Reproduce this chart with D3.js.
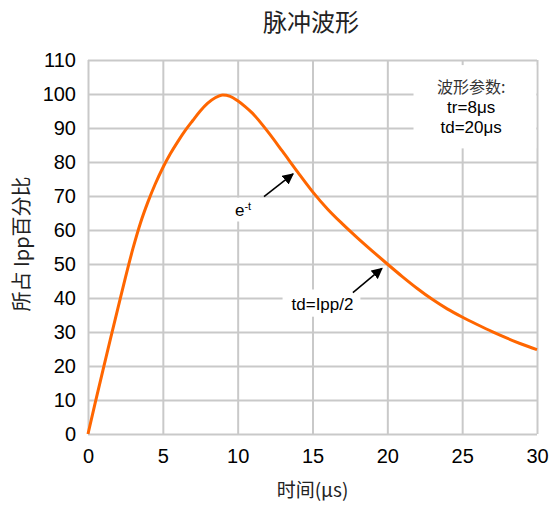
<!DOCTYPE html>
<html>
<head>
<meta charset="utf-8">
<script src="https://cdn.jsdelivr.net/npm/d3@7"></script>
<style>
  body { margin: 0; background: #fff; }
  svg { display: block; }
</style>
</head>
<body>
<svg id="chart" width="550" height="505"></svg>
<script>
// pulse waveform
const timeVals = [0, 0.5, 1, 1.5, 2, 2.5, 3, 3.5, 4, 4.5, 5, 5.5, 6, 6.5, 7, 7.5, 8, 8.5, 9, 9.5, 10, 10.5, 11, 12, 13, 14,
                  15, 16, 17, 18, 19, 20, 21, 22, 23, 24, 25, 26, 27, 28, 29, 30];
const pctVals  = [0, 9.5, 18.8, 28, 37, 46, 54.5, 62, 68.2, 73.6, 78.3, 82.4, 86, 89.3, 92.2, 95, 97.3, 98.9, 99.7, 99.3, 98, 96.3, 94.3, 89, 83.1, 77.1,
                  71.3, 66.2, 61.8, 57.7, 53.8, 50, 46.3, 42.8, 39.6, 36.8, 34.4, 32.2, 30.1, 28.2, 26.4, 24.8];
const xTicks = [0, 5, 10, 15, 20, 25, 30];
const yTicks = [0, 10, 20, 30, 40, 50, 60, 70, 80, 90, 100, 110];

const titleText  = "脉冲波形";
const xLabelText = "时间(μs)";
const yLabelText = "所占 Ipp百分比";
const boxLines   = ["波形参数:", "tr=8μs", "td=20μs"];

// annotation arrows in data units: [fromT, fromPct, toT, toPct]
const arrows = [
  [11.76, 69.8, 13.7, 76.5],
  [17.7, 41.6, 19.64, 48.7]
];

const svg = d3.select("#chart"),
      margin = { top: 60, right: 13, bottom: 71, left: 88 },
      width  = 550 - margin.left - margin.right,
      height = 505 - margin.top - margin.bottom;

const sans = "'Liberation Sans', Arial, sans-serif";
const cjk  = "'Noto Sans CJK SC', sans-serif";

const defs = svg.append("defs");
defs.append("marker")
    .attr("id", "arrowhead")
    .attr("viewBox", "0 0 10 10")
    .attr("refX", 9).attr("refY", 5)
    .attr("markerWidth", 7).attr("markerHeight", 7)
    .attr("markerUnits", "strokeWidth")
    .attr("orient", "auto")
  .append("path")
    .attr("d", "M0,0 L10,5 L0,10 z")
    .attr("fill", "#000");

const g = svg.append("g")
  .attr("transform", `translate(${margin.left},${margin.top})`);

const x = d3.scaleLinear().domain([0, 30]).range([0, width]);
const y = d3.scaleLinear().domain([0, 110]).range([height, 0]);

// grid
const gridX = g.append("g")
  .attr("transform", `translate(0,${height})`)
  .call(d3.axisBottom(x).tickValues(xTicks).tickSize(-height).tickFormat(""));
const gridY = g.append("g")
  .call(d3.axisLeft(y).tickValues(yTicks).tickSize(-width).tickFormat(""));
[gridX, gridY].forEach(a => {
  a.select(".domain").remove();
  a.selectAll("line").attr("stroke", "#c9c9c9").attr("stroke-width", 2);
});

// tick labels
const xAxis = g.append("g")
  .attr("transform", `translate(0,${height})`)
  .call(d3.axisBottom(x).tickValues(xTicks).tickSize(0).tickPadding(10));
const yAxis = g.append("g")
  .call(d3.axisLeft(y).tickValues(yTicks).tickSize(0).tickPadding(12));
[xAxis, yAxis].forEach(a => {
  a.select(".domain").remove();
  a.selectAll("text")
    .attr("font-family", sans)
    .attr("font-size", "20px")
    .attr("fill", "#000");
});
xAxis.selectAll("text").attr("dy", "0.95em");

// white backing for the parameter box and the labels
g.append("rect")
  .attr("x", x(21.75)).attr("y", y(108.5))
  .attr("width", x(29.95) - x(21.75)).attr("height", y(84) - y(108.5))
  .attr("fill", "#fff");
g.append("rect")
  .attr("x", x(13.0)).attr("y", y(42.5))
  .attr("width", x(18.2) - x(13.0)).attr("height", y(34.5) - y(42.5))
  .attr("fill", "#fff");
g.append("rect")
  .attr("x", x(9.5)).attr("y", y(69.5))
  .attr("width", x(11.5) - x(9.5)).attr("height", y(62.5) - y(69.5))
  .attr("fill", "#fff");

// waveform
const pts = timeVals.map((t, i) => ({ t, v: pctVals[i] }));
g.append("path")
  .datum(pts)
  .attr("fill", "none")
  .attr("stroke", "#ff6600")
  .attr("stroke-width", 3)
  .attr("stroke-linejoin", "round")
  .attr("d", d3.line().x(d => x(d.t)).y(d => y(d.v)).curve(d3.curveMonotoneX));

// arrows
g.selectAll(".arrow")
  .data(arrows)
  .enter().append("line")
  .attr("class", "arrow")
  .attr("x1", d => x(d[0])).attr("y1", d => y(d[1]))
  .attr("x2", d => x(d[2])).attr("y2", d => y(d[3]))
  .attr("stroke", "#000")
  .attr("stroke-width", 1.6)
  .attr("marker-end", "url(#arrowhead)");

// e^-t label
const eLabel = g.append("text")
  .attr("x", x(9.82)).attr("y", y(64.2))
  .attr("font-family", sans).attr("font-size", "17px").attr("fill", "#000");
eLabel.append("tspan").text("e");
eLabel.append("tspan").attr("dy", "-0.5em").attr("font-size", "11px").text("-t");

// td label
g.append("text")
  .attr("x", x(13.6)).attr("y", y(36.4))
  .attr("font-family", sans).attr("font-size", "17px").attr("fill", "#000")
  .text("td=Ipp/2");

// parameter box text
g.selectAll(".box-line")
  .data(boxLines)
  .enter().append("text")
  .attr("class", "box-line")
  .attr("x", x(25.6))
  .attr("y", (d, i) => y(100.3) + i * 20)
  .attr("text-anchor", "middle")
  .attr("font-family", (d, i) => i === 0 ? cjk : sans)
  .attr("font-size", (d, i) => i === 0 ? "16px" : "17px")
  .attr("fill", (d, i) => i === 0 ? "#333" : "#000")
  .text(d => d);

// title and axis labels
svg.append("text")
  .attr("x", 311).attr("y", 31)
  .attr("text-anchor", "middle")
  .attr("font-family", cjk).attr("font-size", "24px").attr("fill", "#222")
  .text(titleText);

svg.append("text")
  .attr("x", margin.left + x(15)).attr("y", 497)
  .attr("text-anchor", "middle")
  .attr("font-family", cjk).attr("font-size", "19px").attr("fill", "#222")
  .text(xLabelText);

svg.append("text")
  .attr("transform", `translate(29,${margin.top + y(55) - 3}) rotate(-90)`)
  .attr("text-anchor", "middle")
  .attr("font-family", cjk).attr("font-size", "20px").attr("fill", "#222")
  .text(yLabelText);
</script>
</body>
</html>
